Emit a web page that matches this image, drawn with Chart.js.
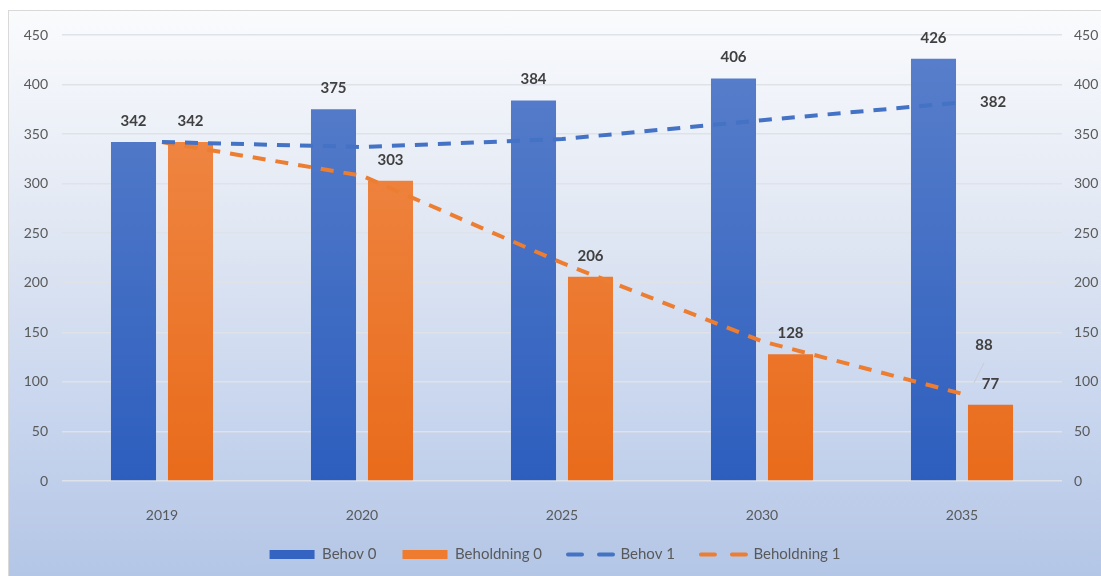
<!DOCTYPE html>
<html>
<head>
<meta charset="utf-8">
<script src="https://cdn.jsdelivr.net/npm/chart.js@4.4.1/dist/chart.umd.min.js"></script>
<style>
  html, body { margin: 0; padding: 0; background: #fff; }
  #frame {
    position: absolute; left: 8px; top: 10px; width: 1092px; height: 565px;
    border-left: 1px solid #d9d9d9; border-top: 1px solid #d9d9d9;
    background: linear-gradient(to bottom, #fafbfd 0%, #e3e9f4 35%, #c9d6ee 70%, #b4c6e6 100%);
  }
  #chart { display: block; }
</style>
</head>
<body>
<div id="frame"><canvas id="chart" width="1092" height="565"></canvas></div>
<script>
// data
const years = ['2019', '2020', '2025', '2030', '2035'];
const behov0 = [342, 375, 384, 406, 426];
const beholdning0 = [342, 303, 206, 128, 77];
const behov1 = [342, 337, 345, 364, 382];
const beholdning1 = [342, 308, 220, 141, 88];
const yTicks = [0, 50, 100, 150, 200, 250, 300, 350, 400, 450];

const txt = '#595959';
const labelCol = '#404040';
const font = 'Lato, "Noto Sans", sans-serif';

function barGradient(ctx, top, bottom) {
  const chart = ctx.chart;
  const area = chart.chartArea;
  if (!area) return bottom;
  const g = chart.ctx.createLinearGradient(0, area.top, 0, area.bottom);
  g.addColorStop(0, top);
  g.addColorStop(1, bottom);
  return g;
}

// value labels above bars, plus the two line labels at the end
const valueLabels = {
  id: 'valueLabels',
  afterDatasetsDraw(chart) {
    const c = chart.ctx;
    c.save();
    c.font = 'bold 15px ' + font;
    c.fillStyle = labelCol;
    c.textAlign = 'center';
    c.textBaseline = 'middle';
    [0, 1].forEach(i => {
      chart.getDatasetMeta(i).data.forEach((bar, j) => {
        c.fillText(chart.data.datasets[i].data[j], bar.x, bar.y - 21);
      });
    });
    // Behov 1 end label
    const last = years.length - 1;
    const p1 = chart.getDatasetMeta(2).data[last];
    c.textAlign = 'left';
    c.fillText(behov1[last], p1.x + 18, p1.y);
    // Beholdning 1 end label with leader line
    const p2 = chart.getDatasetMeta(3).data[last];
    c.strokeStyle = '#c8ccd4';
    c.lineWidth = 1;
    c.beginPath();
    c.moveTo(p2.x + 12, p2.y - 11);
    c.lineTo(p2.x + 22, p2.y - 31);
    c.stroke();
    c.textAlign = 'center';
    c.fillText(beholdning1[last], p2.x + 22, p2.y - 49);
    c.restore();
  }
};

const ctx = document.getElementById('chart').getContext('2d');
const myChart = new Chart(ctx, {
  type: 'bar',
  data: {
    labels: years,
    datasets: [
      {
        label: 'Behov 0',
        data: behov0,
        backgroundColor: c => barGradient(c, '#5a80cb', '#2d5ebe'),
        legendColor: '#3563c1',
        categoryPercentage: 0.57,
        barPercentage: 0.79,
        order: 2
      },
      {
        label: 'Beholdning 0',
        data: beholdning0,
        backgroundColor: c => barGradient(c, '#f08d4d', '#e96b1b'),
        legendColor: '#ee7b2e',
        categoryPercentage: 0.57,
        barPercentage: 0.79,
        order: 2
      },
      {
        type: 'line',
        label: 'Behov 1',
        data: behov1,
        borderColor: '#4472c4',
        borderWidth: 4,
        borderDash: [13, 10],
        pointRadius: 0,
        fill: false,
        order: 1
      },
      {
        type: 'line',
        label: 'Beholdning 1',
        data: beholdning1,
        borderColor: '#ed7d31',
        borderWidth: 4,
        borderDash: [13, 10],
        pointRadius: 0,
        fill: false,
        order: 1
      }
    ]
  },
  options: {
    responsive: false,
    animation: false,
    layout: { padding: { top: 24, bottom: 4 } },
    scales: {
      x: {
        grid: { display: false },
        border: { display: false },
        ticks: { color: txt, font: { family: font, size: 14 }, padding: 18 },
        afterFit: s => { s.height = 40; }
      },
      y: {
        position: 'left',
        min: 0, max: 450,
        afterBuildTicks: s => { s.ticks = yTicks.map(v => ({ value: v })); },
        grid: { color: '#dfe2e8', lineWidth: 1.5, drawTicks: false },
        border: { display: false },
        ticks: { color: txt, font: { family: font, size: 14 }, padding: 14 },
        afterFit: s => { s.width = 53; }
      },
      y2: {
        position: 'right',
        min: 0, max: 450,
        afterBuildTicks: s => { s.ticks = yTicks.map(v => ({ value: v })); },
        grid: { display: false, drawTicks: false },
        border: { display: false },
        ticks: { color: txt, font: { family: font, size: 14 }, padding: 12 },
        afterFit: s => { s.width = 39; }
      }
    },
    plugins: {
      tooltip: { enabled: false },
      legend: {
        position: 'bottom',
        labels: {
          usePointStyle: true,
          pointStyleWidth: 45,
          boxHeight: 9,
          padding: 26,
          color: txt,
          font: { family: font, size: 15 },
          generateLabels: chart => chart.data.datasets.map((ds, i) => {
            const isLine = ds.type === 'line';
            return {
              text: ds.label,
              datasetIndex: i,
              pointStyle: isLine ? 'line' : 'rect',
              fillStyle: isLine ? ds.borderColor : ds.legendColor,
              strokeStyle: isLine ? ds.borderColor : ds.legendColor,
              lineWidth: isLine ? 4 : 0,
              lineDash: isLine ? [14, 17] : [],
              lineCap: 'round',
              fontColor: txt
            };
          })
        }
      }
    }
  },
  plugins: [valueLabels]
});
</script>
</body>
</html>
